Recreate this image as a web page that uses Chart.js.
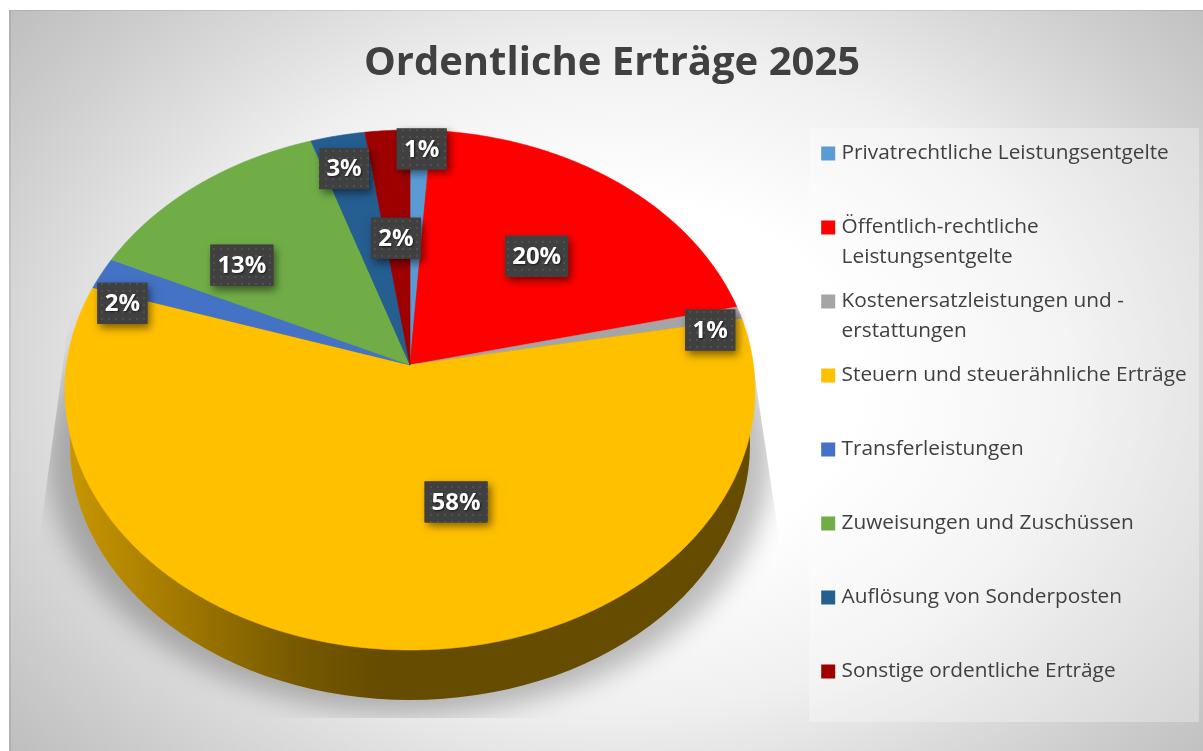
<!DOCTYPE html>
<html lang="de">
<head>
<meta charset="utf-8">
<title>Ordentliche Erträge 2025</title>
<script src="https://cdn.jsdelivr.net/npm/chart.js@4"></script>
<style>
html,body{margin:0;padding:0;background:#fff;}
canvas{display:block;}
</style>
</head>
<body>
<canvas id="c" width="1203" height="751"></canvas>
<script>
const chartTitle = "Ordentliche Erträge 2025";
const categories = [
  "Privatrechtliche Leistungsentgelte",
  "Öffentlich-rechtliche",
  "Kostenersatzleistungen und -",
  "Steuern und steuerähnliche Erträge",
  "Transferleistungen",
  "Zuweisungen und Zuschüssen",
  "Auflösung von Sonderposten",
  "Sonstige ordentliche Erträge"
];
const categoryContinuation = ["", "Leistungsentgelte", "erstattungen", "", "", "", "", ""];
const shares = [1.1, 20.2, 0.8, 57.9, 2.0, 12.9, 2.8, 2.3];
const sliceColors = ["#5B9BD5", "#FF0000", "#A5A5A5", "#FFC000", "#4472C4", "#70AD47", "#255E91", "#9E0000"];

// Projection of the tilted pie disc onto the picture
const disc = {cx: 410, apexY: 365, K: 343.4, c: -0.09615, b: 222.5};
function project(theta, f) {
  const x = Math.sin(theta) * f, y = -Math.cos(theta) * f;
  const w = 1 + disc.c * y;
  return {x: disc.cx + disc.K * x / w, y: (disc.apexY + disc.b * y) / w};
}
// Label shift away from the slice's 60% radius point
const labelShift = [[5,-70],[-1,4],[101,-3.5],[60.5,-26.7],[-100,-6],[-37,11],[-21,-54],[0,19]];

function dotPattern(ctx) {
  const t = document.createElement('canvas');
  t.width = 7; t.height = 7;
  const g = t.getContext('2d');
  g.fillStyle = '#404040'; g.fillRect(0,0,7,7);
  g.fillStyle = '#505050'; g.fillRect(3,3,2,2);
  return ctx.createPattern(t, 'repeat');
}

const backdrop = {
  id: 'backdrop',
  beforeDraw(chart) {
    const ctx = chart.ctx;
    ctx.save();
    ctx.fillStyle = '#fff';
    ctx.fillRect(0,0,1203,751);
    // sheet gradient
    ctx.save();
    ctx.beginPath(); ctx.rect(9,10,1194,741); ctx.clip();
    ctx.translate(620,380); ctx.scale(620,460);
    const g = ctx.createRadialGradient(0,0,0,0,0,1.3);
    g.addColorStop(0,'#ffffff');
    g.addColorStop(0.3,'#ffffff');
    g.addColorStop(0.55,'#f0f0f0');
    g.addColorStop(0.73,'#dadada');
    g.addColorStop(0.85,'#cccccc');
    g.addColorStop(1,'#bcbcbc');
    ctx.fillStyle = g;
    ctx.fillRect(-3,-3,6,6);
    ctx.restore();
    // sheet edge
    ctx.fillStyle = 'rgba(0,0,0,0.08)';
    ctx.fillRect(9,10,2,741);
    ctx.fillRect(11,10,1192,1);
    // legend panel
    ctx.fillStyle = 'rgba(255,255,255,0.3)';
    ctx.fillRect(809,128,390,594);
    // soft floor shadow
    ctx.save();
    ctx.beginPath();
    ctx.moveTo(72,298); ctx.lineTo(38,548); ctx.lineTo(38,718); ctx.lineTo(780,718); ctx.lineTo(778,530); ctx.lineTo(743,298);
    ctx.closePath(); ctx.clip();
    ctx.filter = 'blur(13px)';
    ctx.fillStyle = 'rgba(0,0,0,0.25)';
    ctx.beginPath();
    ctx.ellipse(410,456,362,258,0,0,Math.PI*2);
    ctx.fill();
    ctx.restore();
    ctx.restore();
  },
  afterLayout(chart) {
    const t = chart.titleBlock;
    t.left += 10.5; t.right += 10.5;
    const l = chart.legend;
    l.left = 772; l.right = 1203; l.top = 89.8; l.bottom = 751;
  },
  afterDraw(chart) {
    // wrapped second lines of long legend entries
    const ctx = chart.ctx, l = chart.legend;
    const pad = l.options.labels.padding, size = l.options.labels.font.size;
    ctx.save();
    ctx.font = size + 'px "Open Sans"';
    ctx.fillStyle = '#404040';
    ctx.textAlign = 'left'; ctx.textBaseline = 'middle';
    categoryContinuation.forEach((line,i) => {
      if (!line) return;
      const y = l.top + pad + i * (size + pad) + size/2 + 29.5;
      ctx.fillText(line, l.left + pad + l.options.labels.boxWidth + size/2, y);
    });
    ctx.restore();
  }
};

const pie3d = {
  id: 'pie3d',
  beforeDatasetDraw(chart, args) {
    const ctx = chart.ctx;
    const arcs = chart.getDatasetMeta(args.index).data;
    // wall
    const w = ctx.createLinearGradient(68,0,380,0);
    w.addColorStop(0,'#C89600');
    w.addColorStop(0.3,'#A87E00');
    w.addColorStop(0.75,'#755800');
    w.addColorStop(1,'#664C00');
    ctx.save();
    ctx.fillStyle = w;
    ctx.beginPath();
    ctx.ellipse(410,445,340,255,0,0,Math.PI*2);
    ctx.fill();
    ctx.restore();
    // top face
    arcs.forEach((a,i) => {
      const s = a.startAngle + Math.PI/2, e = a.endAngle + Math.PI/2;
      const o = project(0,0);
      ctx.save();
      ctx.beginPath();
      ctx.moveTo(o.x,o.y);
      const n = Math.max(4, Math.ceil((e-s)*120));
      for (let k=0;k<=n;k++){
        const p = project(s+(e-s)*k/n,1);
        ctx.lineTo(p.x,p.y);
      }
      ctx.closePath();
      ctx.fillStyle = a.options.backgroundColor;
      ctx.strokeStyle = a.options.backgroundColor;
      ctx.lineWidth = 0.6;
      ctx.fill(); ctx.stroke();
      ctx.restore();
    });
    return false;
  },
  afterDraw(chart) {
    const ctx = chart.ctx;
    const arcs = chart.getDatasetMeta(0).data;
    const pat = dotPattern(ctx);
    arcs.forEach((a,i) => {
      const mid = (a.startAngle + a.endAngle)/2 + Math.PI/2;
      const p = project(mid,0.6);
      const x = p.x + labelShift[i][0], y = p.y + labelShift[i][1];
      const txt = Math.round(shares[i]) + '%';
      ctx.save();
      ctx.font = 'bold 24px "Open Sans"';
      const w = txt.length > 2 ? 63 : 50, h = 41;
      ctx.shadowColor = 'rgba(0,0,0,0.5)';
      ctx.shadowBlur = 8; ctx.shadowOffsetX = 3; ctx.shadowOffsetY = 4;
      ctx.fillStyle = '#404040';
      ctx.fillRect(x-w/2,y-h/2,w,h);
      ctx.shadowColor = 'transparent';
      ctx.fillStyle = pat;
      ctx.fillRect(x-w/2,y-h/2,w,h);
      ctx.shadowColor = 'rgba(0,0,0,0.6)';
      ctx.shadowBlur = 2; ctx.shadowOffsetX = 1; ctx.shadowOffsetY = 1;
      ctx.fillStyle = '#fff';
      ctx.textAlign = 'center'; ctx.textBaseline = 'middle';
      ctx.fillText(txt,x,y+1);
      ctx.restore();
    });
  }
};

new Chart(document.getElementById('c'), {
  type: 'pie',
  data: {
    labels: categories,
    datasets: [{data: shares, backgroundColor: sliceColors, borderWidth: 0}]
  },
  plugins: [backdrop, pie3d],
  options: {
    responsive: false,
    animation: false,
    layout: {padding: 0},
    plugins: {
      tooltip: {enabled: false},
      title: {
        display: true,
        text: chartTitle,
        color: '#404040',
        font: {family: '"Open Sans"', size: 40, weight: 'bold'},
        padding: {top: 39.5, bottom: 10}
      },
      legend: {
        display: true,
        position: 'right',
        align: 'start',
        labels: {
          color: '#404040',
          font: {family: '"Open Sans"', size: 20.8},
          padding: 53.2,
          boxWidth: 6,
          boxHeight: 6,
          generateLabels: () => categories.map((text,i) => ({
            text,
            fontColor: '#404040',
            fillStyle: sliceColors[i],
            strokeStyle: sliceColors[i],
            lineWidth: 8,
            hidden: false,
            index: i
          }))
        }
      }
    }
  }
});
</script>
</body>
</html>
